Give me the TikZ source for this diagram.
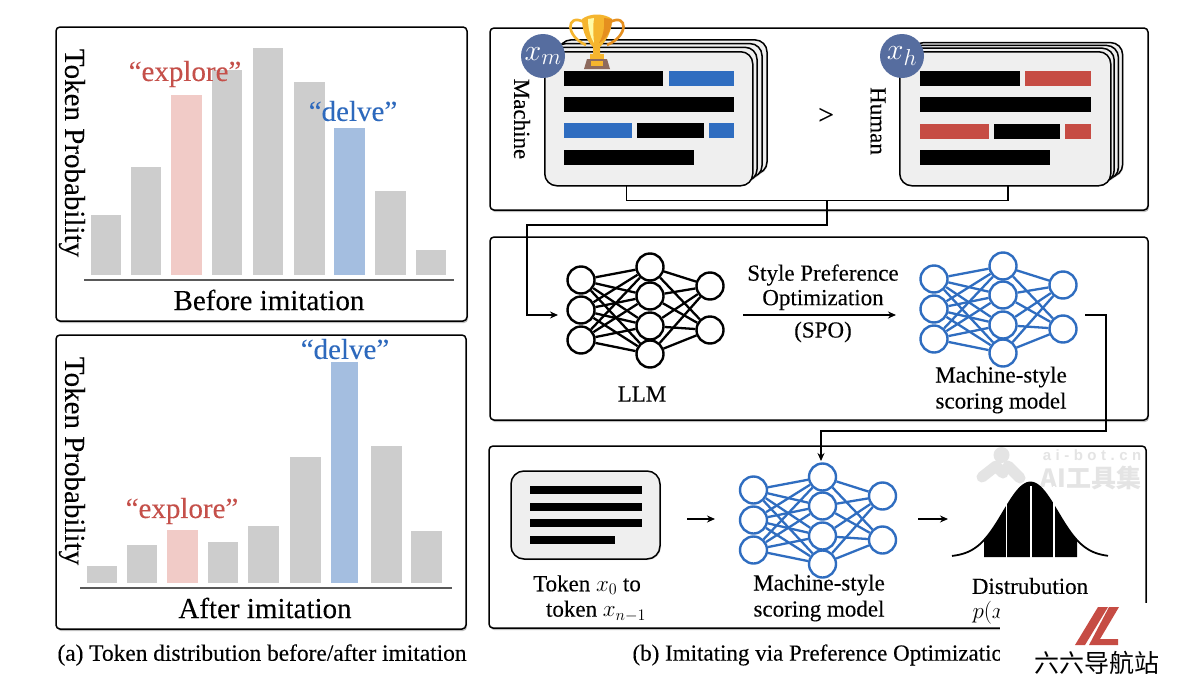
\documentclass[tikz,border=0pt]{standalone}
\usepackage{fix-cm}
\usepackage{fontspec}
\setmainfont[FakeBold=0.15]{Liberation Serif}
\newfontfamily\cjkfont{Noto Sans CJK SC}
\newfontfamily\wmfont[LetterSpace=30]{Liberation Sans}
\usetikzlibrary{shadows,arrows.meta,calc}
\definecolor{gbar}{HTML}{CDCDCD}
\definecolor{pbar}{HTML}{F1CBC7}
\definecolor{bbar}{HTML}{A4BEE0}
\definecolor{rtxt}{HTML}{C5504A}
\definecolor{btxt}{HTML}{2D69BD}
\definecolor{cblue}{HTML}{2F6DC0}
\definecolor{cred}{HTML}{C64C44}
\definecolor{ball}{HTML}{566D9F}
\definecolor{docg}{HTML}{EFEFEF}
\definecolor{wm}{HTML}{E4E4E4}
\definecolor{gold}{HTML}{F5B52E}
\definecolor{dgold}{HTML}{E58F1F}
\definecolor{tbase}{HTML}{8D6A5E}
\tikzset{
 x=1pt,y=-1pt,
 panel/.style={draw=black,line width=1.5pt,rounded corners=4pt,fill=white,drop shadow={shadow xshift=1pt,shadow yshift=-2pt,opacity=.5}},
 big/.style={font=\fontsize{29}{29}\selectfont},
 mid/.style={font=\fontsize{29}{29}\selectfont},
 lab/.style={font=\fontsize{23}{26}\selectfont,align=center},
 axisline/.style={draw=black!65,line width=2.6pt},
 doclayer/.style={draw=black,line width=1.5pt,rounded corners=12pt,fill=docg},
 ballnode/.style={circle,fill=ball,text=white,minimum size=44pt,inner sep=0pt,font=\fontsize{30}{30}\selectfont},
 conn/.style={draw=black,line width=1.4pt},
 tip/.style={-{Stealth[length=8pt,width=7pt]}},
 neuron/.style={circle,draw=#1,fill=white,line width=2.4pt,minimum size=27pt,inner sep=0pt},
 synapse/.style={draw=#1,line width=2.3pt},
}
\newcommand{\subsz}[1]{\mbox{\fontsize{23}{23}\selectfont$#1$}}
\newcommand{\nnet}[4]{%
 \begin{scope}[shift={(#2,#3)}]
  \node[neuron=#4] (#1a1) at (581,280) {};
  \node[neuron=#4] (#1a2) at (581,310) {};
  \node[neuron=#4] (#1a3) at (581,340) {};
  \node[neuron=#4] (#1b1) at (650,267) {};
  \node[neuron=#4] (#1b2) at (650,296) {};
  \node[neuron=#4] (#1b3) at (650,326) {};
  \node[neuron=#4] (#1b4) at (650,354) {};
  \node[neuron=#4] (#1c1) at (710,286) {};
  \node[neuron=#4] (#1c2) at (710,330) {};
  \foreach \i in {1,2,3}{\foreach \j in {1,2,3,4}{\draw[synapse=#4] (#1a\i) -- (#1b\j);}}
  \foreach \j in {1,2,3,4}{\foreach \k in {1,2}{\draw[synapse=#4] (#1b\j) -- (#1c\k);}}
 \end{scope}}
\newcommand{\stack}[5]{% name, left x, right x of front, dx, dy
 \foreach \n in {3,2,1}{\draw[doclayer,drop shadow={shadow xshift=1pt,shadow yshift=-1pt,opacity=.25}] ({#2+#4*\n},{51-#5*\n}) rectangle ({#3+#4*\n},{185-#5*\n});}
 \node[doclayer,minimum width={#3-#2},minimum height=134pt,inner sep=0pt,anchor=north west] (#1) at (#2,51) {};}
\begin{document}
\begin{tikzpicture}
\useasboundingbox (0,0) rectangle (1200,675);
\fill[white] (0,0) rectangle (1200,675);

% left panels
\draw[panel] (56,27) rectangle (467,321);
\draw[panel] (56,335) rectangle (466,629);
\foreach \a/\b/\t/\c in {91/121/215/gbar,131/161/167/gbar,171/202/95/pbar,212/242/70/gbar,253/283/48/gbar,294/325/82/gbar,334/365/128/bbar,375/406/191/gbar,416/446/250/gbar}{
  \fill[\c] (\a,\t) rectangle (\b,275);}
\draw[axisline] (84,280) -- (454,280);
\node[big,rotate=-90] (ya) at (72,153) {Token Probability};
\node[big,text=rtxt] (ea) at (185,74) {“explore”};
\node[big,text=btxt] (da) at (353,111) {“delve”};
\node[mid] (ba) at (269,300) {Before imitation};
\foreach \a/\b/\t/\c in {87/117/566/gbar,127/157/545/gbar,167/198/530/pbar,208/238/542/gbar,248/279/526/gbar,290/321/457/gbar,331/358/362/bbar,371/402/446/gbar,411/442/531/gbar}{
  \fill[\c] (\a,\t) rectangle (\b,583);}
\draw[axisline] (80,588) -- (452,588);
\node[big,rotate=-90] (yb) at (72,461) {Token Probability};
\node[big,text=rtxt] (eb) at (182,511) {“explore”};
\node[big,text=btxt] (db) at (345,349) {“delve”};
\node[mid] (bb) at (265,608) {After imitation};
\node[font=\fontsize{23.4}{23.4}\selectfont] (capa) at (262,655) {(a) Token distribution before/after imitation};

% right panels
\draw[panel] (490,28) rectangle (1148,210);
\draw[panel] (490,237) rectangle (1148,420);
\draw[panel] (489,446) rectangle (1146,628);

% watermark
\begin{scope}
 \fill[wm] (1001.5,455) circle (8);
 \draw[wm,line width=11pt,line cap=round,line join=round] (982,477) -- (996,466) -- (1003,473);
 \draw[wm,line width=11pt,line cap=round] (1008,466) -- (1020,478);
 \node[text=wm,inner sep=0pt,font=\wmfont\bfseries\fontsize{15}{15}\selectfont] (wm1) at (1092,455) {ai-bot.cn};
 \node[text=wm,inner sep=0pt,font=\cjkfont\bfseries\fontsize{25}{25}\selectfont] (wm2) at (1091,478) {AI工具集};
\end{scope}

% documents
\stack{mdoc}{544}{752}{5}{3.7}
\stack{hdoc}{899}{1110}{4.2}{2.8}
\foreach \a/\t/\b/\c in {564/71/663/black,669/71/734/cblue,564/97/734/black,564/123/632/cblue,637/123/704/black,709/123/734/cblue,564/150/694/black,
 920/71/1020/black,1025/71/1091/cred,920/97/1091/black,920/124/989/cred,994/124/1060/black,1065/124/1091/cred,920/150/1050/black}{
  \fill[\c] (\a,\t) rectangle (\b,\t+15);}
\node[lab,rotate=-90] (mlab) at (522,119) {Machine};
\node[lab,rotate=-90] (hlab) at (878,121) {Human};
\node[lab,font=\fontsize{28}{28}\selectfont] (gt) at (826,116) {>};
\node[ballnode] (xm) at (543,56) {$x_{\subsz{m}}$};
\node[ballnode] (xh) at (902,56) {$x_{\subsz{h}}$};

% trophy
\begin{scope}
 \draw[draw=gold,line width=2.6pt] (584,22) .. controls (566,13) and (565,36) .. (586,45);
 \draw[draw=dgold,line width=2.6pt] (610,22) .. controls (628,13) and (629,36) .. (607,45);
 \fill[gold] (582,19) .. controls (590,13) and (604,13) .. (612,19) .. controls (612,34) and (604,43) .. (600,47) -- (600,54) -- (593,54) -- (593,47) .. controls (589,43) and (582,34) .. (582,19) -- cycle;
 \fill[yellow!35!white] (588,19) .. controls (588,30) and (591,38) .. (594,43) .. controls (593,32) and (593,25) .. (594,18) -- cycle;
 \fill[dgold] (604,18) .. controls (605,30) and (602,38) .. (599,43) .. controls (608,38) and (612,28) .. (612,19) -- cycle;
 \fill[gold] (590,54) rectangle (604,59);
 \fill[tbase] (587,59) -- (607,59) -- (610,69) -- (584,69) -- cycle;
 \fill[gold] (591,61) rectangle (603,66);
\end{scope}

% connectors top
\coordinate (mj) at (626.5,185);
\coordinate (hj) at (1008,185);
\coordinate (tj) at (827,200.5);
\coordinate (mk) at (827,225);
\coordinate (ml) at (527,225);
\coordinate (ln) at (558,315);
\draw[conn] (mj) |- (tj) -| (hj);
\draw[conn,tip] (tj) -- (mk) -| (ml) |- (ln);

% nets
\nnet{l}{0}{0}{black}
\nnet{s}{353}{-1}{cblue}
\nnet{t}{172.5}{210}{cblue}

\coordinate (spoa) at (743,315);
\coordinate (spob) at (896,315);
\draw[conn,tip] (spoa) -- (spob);
\node[lab] (spo1) at (823,275) {Style Preference};
\node[lab] (spo2) at (823,300) {Optimization};
\node[lab] (spo3) at (823,332) {(SPO)};
\node[lab] (llm) at (642,394) {LLM};
\node[lab] (msm) at (1001,390) {Machine-style\\scoring model};

\coordinate (oa) at (1085,315);
\coordinate (ob) at (1106,431);
\coordinate (oc) at (821,461);
\draw[conn,tip] (oa) -| (ob) -| (oc);

% token doc
\node[draw=black,line width=1.5pt,rounded corners=13pt,fill=docg,minimum width=149pt,minimum height=88pt,inner sep=0pt,drop shadow={shadow xshift=1pt,shadow yshift=-1pt,opacity=.3}] (tok) at (585.5,515) {};
\foreach \t/\b in {486/642,503/642,519/642,536/615}{\fill[black] (530,\t) rectangle (\b,\t+8);}
\coordinate (f1) at (687,519);
\coordinate (f2) at (715,519);
\coordinate (f3) at (918,519);
\coordinate (f4) at (948,519);
\draw[conn,tip] (f1) -- (f2);
\draw[conn,tip] (f3) -- (f4);
\node[lab,align=left] (tk1) at (587,585) {Token $x_0$ to};
\node[lab] (tk2) at (596,611) {token $x_{n-1}$};
\node[lab] (ms2) at (819,598) {Machine-style\\scoring model};

% distribution
\fill[black] plot[domain=984:1077,samples=60] (\x,{557-74.5*exp(-((\x-1030.5)/27)^2/2)}) -- (1077,557) -- (984,557) -- cycle;
\draw[black,line width=1.8pt] plot[domain=952:1108,samples=80] (\x,{557-74.5*exp(-((\x-1030.5)/27)^2/2)});
\foreach \p/\w in {1006.7/1.5,1031/2.5,1054/1.5}{\draw[white,line width=\w pt] (\p,558) -- (\p,486);}
\node[lab] (dis) at (1030,586) {Distrubution};
\node[lab,anchor=west] (px) at (969,613) {$p(x$};

\node[font=\fontsize{23}{23}\selectfont,anchor=west] (capb) at (629,655) {(b) Imitating via Preference Optimizatio};

% logo
\fill[white] (1000,603) rectangle (1200,675);
\fill[cred] (1098,607) -- (1108,607) -- (1085,645) -- (1075,645) -- cycle;
\fill[cred] (1109,607) -- (1119,607) -- (1100,639) -- (1118,639) -- (1118,645) -- (1089,645) -- cycle;
\node[text=black,font=\cjkfont\fontsize{25}{25}\selectfont] (logo) at (1097,663) {六六导航站};
\end{tikzpicture}
\end{document}
